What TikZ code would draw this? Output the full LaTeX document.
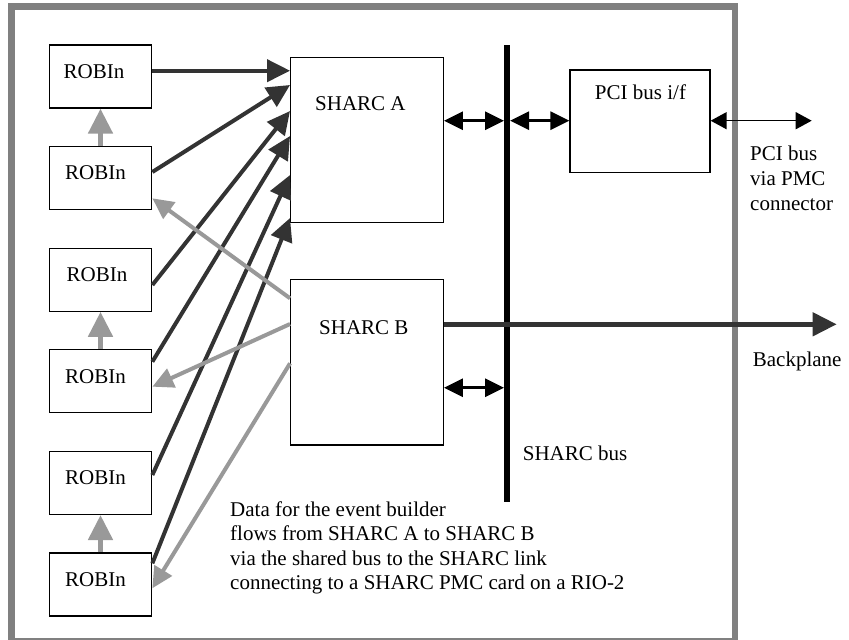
\documentclass[tikz,border=0pt]{standalone}
\usepackage{fontspec}
\setmainfont{Liberation Serif}
\usetikzlibrary{arrows.meta,calc}
\definecolor{frameGray}{RGB}{128,128,128}
\definecolor{darkArrow}{RGB}{51,51,51}
\definecolor{lightArrow}{RGB}{153,153,153}
\tikzset{
  box/.style={draw=black, line width=1.3pt, inner sep=0pt, fill=none},
  robin/.style={box, minimum width=102.4pt, minimum height=63pt},
  lbl/.style={anchor=base west, inner sep=0pt, font=\fontsize{21}{24.4}\selectfont},
  darrow/.style={draw=darkArrow, line width=4pt, -{Triangle[length=23pt,width=22pt]}},
  garrow/.style={draw=lightArrow, line width=4pt, -{Triangle[length=21pt,width=20pt]}},
  uparrow/.style={draw=lightArrow, line width=5pt, -{Triangle[length=25pt,width=24pt]}},
  busarrow/.style={draw=black, line width=3pt, {Triangle[length=19pt,width=18pt]}-{Triangle[length=19pt,width=18pt]}},
  pciarrow/.style={draw=black, line width=1.5pt, {Triangle[length=16pt,width=17pt]}-{Triangle[length=16pt,width=17pt]}},
  bparrow/.style={draw=darkArrow, line width=4.5pt, -{Triangle[length=24pt,width=23pt]}},
}
\begin{document}
\begin{tikzpicture}[x=1pt,y=-1pt]
\useasboundingbox (0,0) rectangle (849,640);
% outer frame
\draw[frameGray, line width=6.7pt] (11.5,6.7) rectangle (735,641.5);

% ROBIn boxes
\node[robin] (r1) at (100.5,76.5) {};
\node[robin] (r2) at (100.5,178.1) {};
\node[robin] (r3) at (100.5,279.7) {};
\node[robin] (r4) at (100.5,381.3) {};
\node[robin] (r5) at (100.5,482.9) {};
\node[robin] (r6) at (100.5,584.5) {};
\node[lbl] (r1t) at (63.5,78.3) {ROBIn};
\node[lbl] (r2t) at (65,179.9) {ROBIn};
\node[lbl] (r3t) at (66.5,281.5) {ROBIn};
\node[lbl] (r4t) at (65,383.1) {ROBIn};
\node[lbl] (r5t) at (65,484.7) {ROBIn};
\node[lbl] (r6t) at (65,586.3) {ROBIn};

% SHARC boxes
\node[box, minimum width=152.6pt, minimum height=165pt] (sa) at (367,140.2) {};
\node[lbl] (sat) at (315,110) {SHARC A};
\node[box, minimum width=152.6pt, minimum height=165.7pt] (sb) at (367,362.2) {};
\node[lbl] (sbt) at (319,334) {SHARC B};

% PCI box
\node[box, minimum width=140pt, minimum height=102.3pt] (pci) at (640,121.2) {};
\node[lbl, anchor=base] (pcit) at (640.5,99) {PCI bus i/f};

% SHARC bus
\coordinate (busTop) at (507,45);
\coordinate (busBot) at (507,501.7);
\draw[black, line width=6pt] (busTop) -- (busBot);
\coordinate (busAL) at (504,120.7);
\coordinate (busAR) at (510,120.7);
\coordinate (busBL) at (504,387.7);
\coordinate (pciEnd) at (811.7,120.7);
\coordinate (bpEnd) at (836.7,324.3);

% bus arrows
\draw[busarrow] (sa.east |- busAL) -- (busAL);
\draw[busarrow] (busAR) -- (pci.west |- busAR);
\draw[busarrow] (sb.east |- busBL) -- (busBL);
\draw[pciarrow] (pci.east |- pciEnd) -- (pciEnd);
\draw[bparrow] (sb.east |- bpEnd) -- (bpEnd);

% grey up arrows between ROBIns
\draw[uparrow] (r2.north) -- (r1.south);
\draw[uparrow] (r4.north) -- (r3.south);
\draw[uparrow] (r6.north) -- (r5.south);

% dark arrows ROBIn -> SHARC A
\draw[darrow] ($(r1.east)+(0,-5.8)$) -- ($(sa.west)+(0,-69.5)$);
\draw[darrow] ($(r2.east)+(0,-6.1)$) -- ($(sa.west)+(0,-55.2)$);
\draw[darrow] ($(r3.east)+(0,5.3)$) -- ($(sa.west)+(0,-29.2)$);
\draw[darrow] ($(r4.east)+(0,-19.6)$) -- ($(sa.west)+(0,-4.2)$);
\draw[darrow] ($(r5.east)+(0,-7.9)$) -- ($(sa.west)+(0,34.8)$);
\draw[darrow] ($(r6.east)+(0,-21.2)$) -- ($(sa.west)+(0,77.8)$);

% grey arrows SHARC B -> ROBIns
\draw[garrow] ($(sb.west)+(0,-63.9)$) -- ($(r2.east)+(0,20.2)$);
\draw[garrow] ($(sb.west)+(0,-38.2)$) -- ($(r4.east)+(0,5.4)$);
\draw[garrow] ($(sb.west)+(0,1.1)$) -- ($(r6.east)+(0,3.8)$);

% labels
\node[lbl] (pcil1) at (750,160.7) {PCI bus};
\node[lbl] (pcil2) at (750,185.7) {via PMC};
\node[lbl] (pcil3) at (750,210) {connector};
\node[lbl] (bpl) at (752.7,366.7) {Backplane};
\node[lbl] (busl) at (522.7,460) {SHARC bus};
\node[lbl] (d1) at (230,516) {Data for the event builder};
\node[lbl] (d2) at (230,540.6) {flows from SHARC A to SHARC B};
\node[lbl] (d3) at (230,565) {via the shared bus to the SHARC link};
\node[lbl] (d4) at (230,589.3) {connecting to a SHARC PMC card on a RIO-2};
\end{tikzpicture}
\end{document}
